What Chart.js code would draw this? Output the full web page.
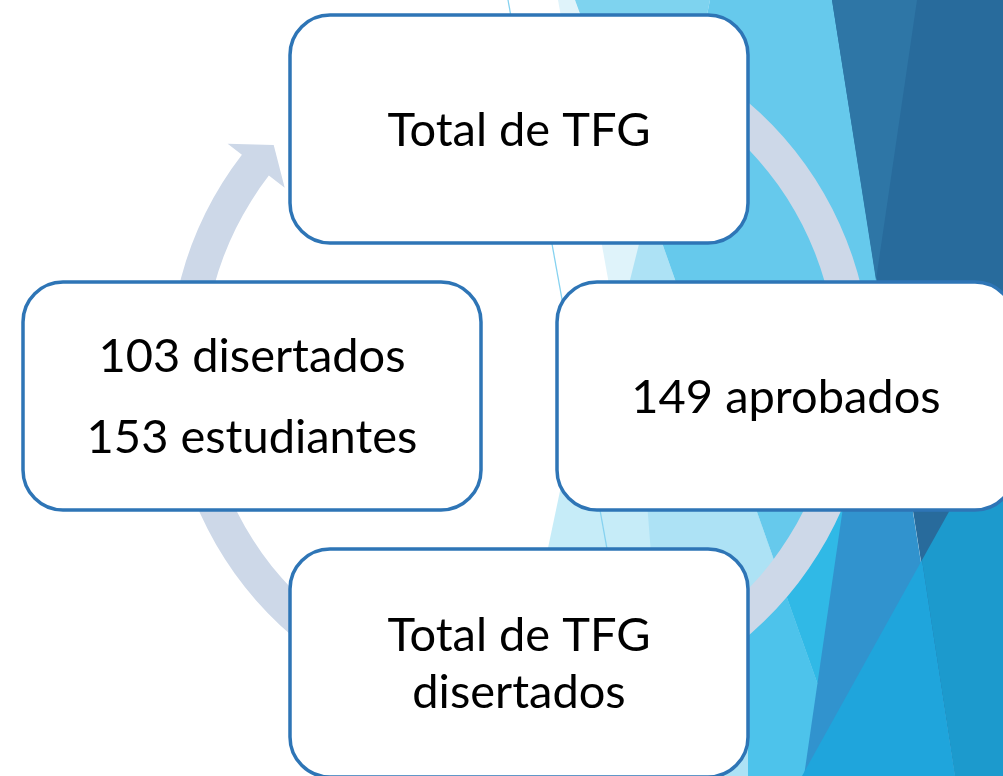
<!DOCTYPE html>
<html>
<head>
<meta charset="utf-8">
<script src="https://cdn.jsdelivr.net/npm/chart.js@4/dist/chart.umd.min.js"></script>
<style>
  html, body { margin: 0; padding: 0; background: #fff; }
  #ciclo { display: block; }
</style>
</head>
<body>
<canvas id="ciclo" width="1003" height="776"></canvas>
<script>
// Datos del ciclo (en orden horario, empezando arriba)
const etapas = ['total', 'aprobados', 'disertados', 'estudiantes'];
const textos = [
    ['Total de TFG'],
    ['149 aprobados'],
    ['Total de TFG', 'disertados'],
    ['103 disertados', '153 estudiantes']
];
const angulos = [-90, 0, 90, 180];

// Layout del diagrama (en unidades de las escalas)
const centro = { x: 519, y: 396 };
const radioNodos = 267;
const caja = { w: 458, h: 228, r: 40 };
const interlineado = [0, 0, 57, 81];
const anillo = { x: 520, y: 369, rExt: 351, rInt: 317, inicio: -75, base: 217.6, punta: 222.3, alaExt: 369, alaInt: 297, rPunta: 333 };

// Fondo decorativo (triángulos de la plantilla)
const fondo = [
    ['#DFF3FA', [[558, 0], [575, 0], [650, 230], [630, 290], [610, 290]]],
    ['#C6ECF8', [[604, 282], [640, 282], [700, 776], [500, 776]]],
    ['#7ED3EF', [[575, 0], [710, 0], [661, 240]]],
    ['#ADE2F5', [[640, 240], [661, 240], [833, 727], [815, 776], [668, 776], [630, 280]]],
    ['#66C9EC', [[710, 0], [900, 0], [900, 776], [817, 682], [661, 240]]],
    ['#4DC3EB', [[748, 612], [780, 578], [833, 727], [815, 776], [748, 776]]],
    ['#30B9E6', [[780, 578], [880, 430], [880, 776], [833, 727]]],
    ['#286B9C', [[832, 0], [1003, 0], [1003, 776], [955, 776]]],
    ['#2E76A6', [[832, 0], [917, 0], [876, 280]]],
    ['#3193CE', [[876, 280], [955, 776], [804, 776]]],
    ['#1C9ACD', [[922, 560], [1003, 415], [1003, 776], [955, 776]]],
    ['#1FA5DC', [[922, 560], [955, 776], [802, 776]]]
];

const rad = g => g * Math.PI / 180;

const puntos = angulos.map(a => ({
    x: centro.x + radioNodos * Math.cos(rad(a)),
    y: centro.y + radioNodos * Math.sin(rad(a))
}));

const dibujoCiclo = {
    id: 'dibujoCiclo',
    beforeDatasetsDraw(chart) {
        const ctx = chart.ctx;
        const xs = chart.scales.x, ys = chart.scales.y;
        const px = v => xs.getPixelForValue(v), py = v => ys.getPixelForValue(v);
        ctx.save();
        // fondo
        fondo.forEach(([color, pts]) => {
            ctx.beginPath();
            pts.forEach((p, i) => i ? ctx.lineTo(px(p[0]), py(p[1])) : ctx.moveTo(px(p[0]), py(p[1])));
            ctx.closePath();
            ctx.fillStyle = color;
            ctx.fill();
        });
        // línea fina
        ctx.beginPath();
        ctx.moveTo(px(508), py(0));
        ctx.lineTo(px(648), py(776));
        ctx.strokeStyle = '#86D2F0';
        ctx.lineWidth = 1.3;
        ctx.stroke();

        // flecha circular
        const cx = px(anillo.x), cy = py(anillo.y);
        const k = px(1) - px(0);
        const polar = (r, a) => [cx + r * k * Math.cos(rad(a)), cy + r * k * Math.sin(rad(a))];
        ctx.beginPath();
        ctx.arc(cx, cy, anillo.rExt * k, rad(anillo.inicio), rad(anillo.base), false);
        ctx.lineTo(...polar(anillo.alaExt, anillo.base));
        ctx.lineTo(...polar(anillo.rPunta, anillo.punta));
        ctx.lineTo(...polar(anillo.alaInt, anillo.base));
        ctx.arc(cx, cy, anillo.rInt * k, rad(anillo.base), rad(anillo.inicio), true);
        ctx.closePath();
        ctx.fillStyle = '#CDD8E8';
        ctx.fill();
        ctx.restore();
    },
    afterDatasetsDraw(chart) {
        const ctx = chart.ctx;
        const meta = chart.getDatasetMeta(0);
        const k = chart.scales.x.getPixelForValue(1) - chart.scales.x.getPixelForValue(0);
        const w = caja.w * k, h = caja.h * k;
        ctx.save();
        meta.data.forEach((el, i) => {
            const x0 = el.x - w / 2, y0 = el.y - h / 2;
            ctx.beginPath();
            ctx.roundRect(x0, y0, w, h, caja.r * k);
            ctx.fillStyle = '#FFFFFF';
            ctx.fill();
            ctx.lineWidth = 3.5;
            ctx.strokeStyle = '#2E75B6';
            ctx.stroke();

            const lineas = textos[i];
            const fs = 47;
            ctx.font = '400 ' + fs + 'px Lato';
            ctx.fillStyle = '#000000';
            ctx.textAlign = 'center';
            ctx.textBaseline = 'alphabetic';
            lineas.forEach((t, j) => {
                const off = (j - (lineas.length - 1) / 2) * interlineado[i];
                ctx.fillText(t, el.x, el.y + fs * 0.36 + off);
            });
        });
        ctx.restore();
    }
};

new Chart(document.getElementById('ciclo').getContext('2d'), {
    type: 'scatter',
    data: {
        labels: etapas,
        datasets: [{
            label: 'Ciclo TFG',
            data: puntos,
            pointRadius: 0,
            pointHoverRadius: 0
        }]
    },
    options: {
        responsive: false,
        animation: false,
        events: [],
        layout: { padding: 0 },
        plugins: {
            legend: { display: false },
            tooltip: { enabled: false }
        },
        scales: {
            x: { type: 'linear', min: 0, max: 1003, display: false },
            y: { type: 'linear', min: 0, max: 776, reverse: true, display: false }
        }
    },
    plugins: [dibujoCiclo]
});
</script>
</body>
</html>
